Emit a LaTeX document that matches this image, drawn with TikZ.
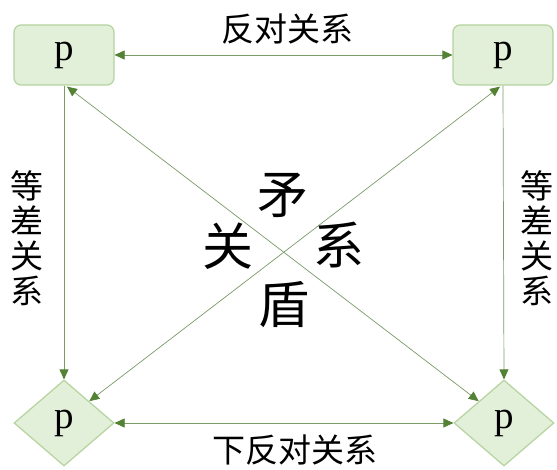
\documentclass[tikz,border=0pt]{standalone}
\usepackage{fontspec}
\newfontfamily\cjk{Noto Sans CJK SC}
\newfontfamily\pfont{Liberation Serif}
\usetikzlibrary{shapes.geometric,arrows.meta}
\definecolor{boxfill}{HTML}{E2EFD9}
\definecolor{boxdraw}{HTML}{B4D39E}
\definecolor{linegreen}{HTML}{7A9A66}
\definecolor{tipgreen}{HTML}{548235}
\tikzset{
  sbox/.style={rectangle, rounded corners=7pt, draw=boxdraw, line width=1.2pt, fill=boxfill,
    minimum width=100pt, minimum height=60pt, inner sep=0pt, font=\pfont\fontsize{39}{39}\selectfont},
  dbox/.style={diamond, draw=boxdraw, line width=1.2pt, fill=boxfill,
    minimum width=100pt, minimum height=86pt, inner sep=0pt, font=\pfont\fontsize{39}{39}\selectfont},
  conn/.style={draw=linegreen, line width=0.7pt},
  tip/.style={-{Triangle[length=10pt,width=9pt,color=tipgreen]}},
  dtip/.style={{Triangle[length=10pt,width=9pt,color=tipgreen]}-{Triangle[length=10pt,width=9pt,color=tipgreen]}},
  lab/.style={font=\cjk\fontsize{33}{35}\selectfont, inner sep=0pt, align=center},
  big/.style={font=\cjk\fontsize{51}{51}\selectfont, inner sep=0pt}
}
\begin{document}
\begin{tikzpicture}[x=1pt,y=-1pt]
\useasboundingbox (0,0) rectangle (557,470);
\node[sbox] (TL) at (64,55) {p};
\node[sbox] (TR) at (503,55) {p};
\node[dbox] (BL) at (64,423) {p};
\node[dbox] (BR) at (504,423) {p};

\draw[conn,dtip] (TL.east) -- (TR.west);
\draw[conn,dtip] (BL.east) -- (BR.west);
\draw[conn,tip] (TL.south) -- (BL.north);
\draw[conn,tip] (TR.south) -- (BR.north);
\draw[conn,dtip] ([xshift=3pt,yshift=-1pt]TL.south) -- (BR.north west);
\draw[conn,dtip] (BL.north east) -- ([xshift=-3pt,yshift=-1pt]TR.south);

\node[lab] (ltop) at (287,29) {反对关系};
\node[lab] (lbot) at (295,450) {下反对关系};
\node[lab] (lleft) at (27,238) {等\\差\\关\\系};
\node[lab] (lright) at (537,238) {等\\差\\关\\系};

\node[big] (c1) at (283,195) {矛};
\node[big] (c2) at (228,246) {关};
\node[big] (c3) at (339,245) {系};
\node[big] (c4) at (284,305) {盾};
\end{tikzpicture}
\end{document}
